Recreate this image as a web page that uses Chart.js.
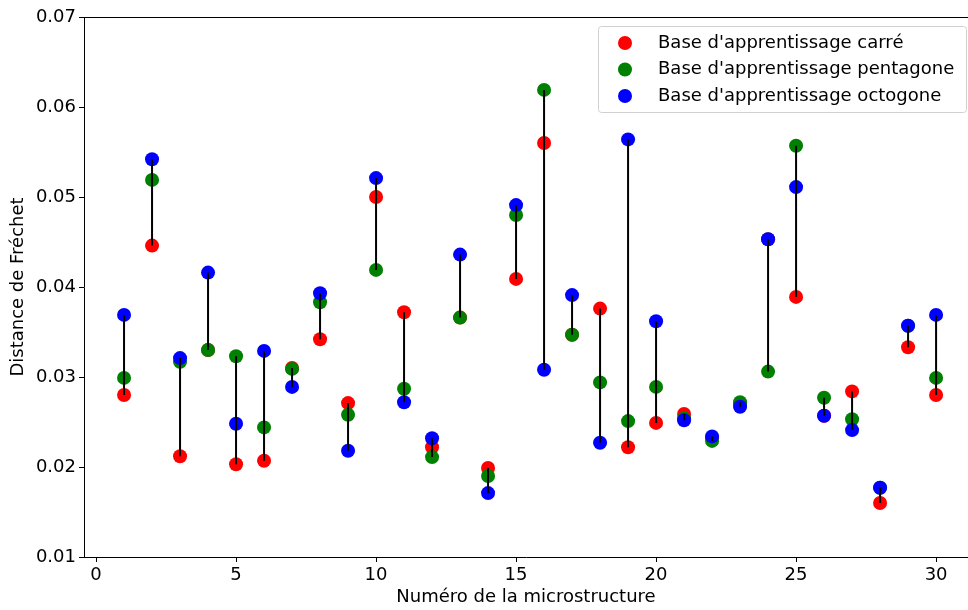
<!DOCTYPE html>
<html>
<head>
<meta charset="utf-8">
<script src="https://cdn.jsdelivr.net/npm/chart.js@4"></script>
<style>
  body{margin:0;background:#fff;}
  #wrap{width:968px;height:610px;}
</style>
</head>
<body>
<div id="wrap"><canvas id="chart" width="968" height="610"></canvas></div>
<script>
// microstructure numbers 1..30
const microstructures = [1,2,3,4,5,6,7,8,9,10,11,12,13,14,15,16,17,18,19,20,21,22,23,24,25,26,27,28,29,30];
const carre = [0.0280,0.0446,0.0212,0.0330,0.0203,0.0207,0.0310,0.0342,0.0271,0.0500,
               0.0372,0.0222,0.0366,0.0199,0.0409,0.0560,0.0347,0.0376,0.0222,0.0249,
               0.0259,0.0232,0.0270,0.0453,0.0389,0.0257,0.0284,0.0160,0.0333,0.0280];
const pentagone = [0.0299,0.0519,0.0317,0.0330,0.0323,0.0244,0.0309,0.0383,0.0258,0.0419,
                   0.0287,0.0211,0.0366,0.0190,0.0480,0.0619,0.0347,0.0294,0.0251,0.0289,
                   0.0254,0.0229,0.0272,0.0306,0.0557,0.0277,0.0253,0.0177,0.0357,0.0299];
const octogone = [0.0369,0.0542,0.0321,0.0416,0.0248,0.0329,0.0289,0.0393,0.0218,0.0521,
                  0.0272,0.0232,0.0436,0.0171,0.0491,0.0308,0.0391,0.0227,0.0564,0.0362,
                  0.0252,0.0234,0.0267,0.0453,0.0511,0.0257,0.0241,0.0177,0.0357,0.0369];
const xTicks = [0,5,10,15,20,25,30];
const yTicks = [0.01,0.02,0.03,0.04,0.05,0.06,0.07];
const labels = ["Base d'apprentissage carré","Base d'apprentissage pentagone","Base d'apprentissage octogone"];
const colors = ['#ff0000','#008000','#0000ff'];

const FONT = "'DejaVu Sans', sans-serif";

function pts(vals){
  return microstructures.map((m,i)=>({x:m,y:vals[i]}));
}

// vertical segments min -> max for each microstructure
let segs = [];
microstructures.forEach((m,i)=>{
  let v = [carre[i],pentagone[i],octogone[i]];
  segs.push({x:m,y:Math.min(...v)});
  segs.push({x:m,y:Math.max(...v)});
  segs.push({x:m,y:null});
});

const frame = {
  id:'frame',
  afterDraw(c){
    let ctx = c.ctx, a = c.chartArea;
    ctx.save();
    ctx.strokeStyle = '#000';
    ctx.lineWidth = 1;
    ctx.beginPath();
    ctx.moveTo(a.left, a.top+0.5);
    ctx.lineTo(a.right, a.top+0.5);
    ctx.stroke();

    // legend box
    let bx = 598.5, by = 26.5, bw = 368, bh = 86;
    ctx.fillStyle = 'rgba(255,255,255,0.8)';
    ctx.strokeStyle = '#d0d0d0';
    ctx.beginPath();
    ctx.roundRect(bx, by, bw, bh, 3);
    ctx.fill();
    ctx.stroke();
    ctx.font = "18px " + FONT;
    ctx.textBaseline = 'middle';
    labels.forEach((l,i)=>{
      let y = 43 + i*26.5;
      ctx.fillStyle = colors[i];
      ctx.beginPath();
      ctx.arc(625, y, 7, 0, Math.PI*2);
      ctx.fill();
      ctx.fillStyle = '#000';
      ctx.fillText(l, 658, y);
    });
    ctx.restore();
  }
};

new Chart(document.getElementById('chart'), {
  type:'scatter',
  data:{
    datasets:[
      {label:labels[0], data:pts(carre), backgroundColor:colors[0], borderWidth:0, pointRadius:7, order:4},
      {label:labels[1], data:pts(pentagone), backgroundColor:colors[1], borderWidth:0, pointRadius:7, order:3},
      {label:labels[2], data:pts(octogone), backgroundColor:colors[2], borderWidth:0, pointRadius:7, order:2},
      {label:'seg', data:segs, showLine:true, spanGaps:false, borderColor:'#000', borderWidth:2, pointRadius:0, order:1}
    ]
  },
  options:{
    responsive:false,
    animation:false,
    layout:{autoPadding:false, padding:{top:17,right:0,left:0,bottom:0}},
    plugins:{legend:{display:false}, tooltip:{enabled:false}},
    scales:{
      x:{
        type:'linear', min:-0.43, max:31.14,
        afterBuildTicks(s){ s.ticks = xTicks.map(v=>({value:v})); },
        afterFit(s){ s.height = 53; },
        grid:{drawOnChartArea:false, drawTicks:true, tickLength:5, color:'#000'},
        border:{color:'#000', width:1},
        ticks:{color:'#000', font:{family:FONT, size:18}, padding:3, maxRotation:0},
        title:{display:true, text:'Numéro de la microstructure', color:'#000', font:{family:FONT, size:18}, padding:{top:0,bottom:2}}
      },
      y:{
        min:0.01, max:0.07,
        afterBuildTicks(s){ s.ticks = yTicks.map(v=>({value:v})); },
        afterFit(s){ s.width = 84; },
        grid:{drawOnChartArea:false, drawTicks:true, tickLength:5, color:'#000'},
        border:{color:'#000', width:1},
        ticks:{color:'#000', font:{family:FONT, size:18}, padding:3, callback:v=>v.toFixed(2)},
        title:{display:true, text:'Distance de Fréchet', color:'#000', font:{family:FONT, size:18}, padding:{top:8,bottom:0}}
      }
    }
  },
  plugins:[frame]
});
</script>
</body>
</html>
